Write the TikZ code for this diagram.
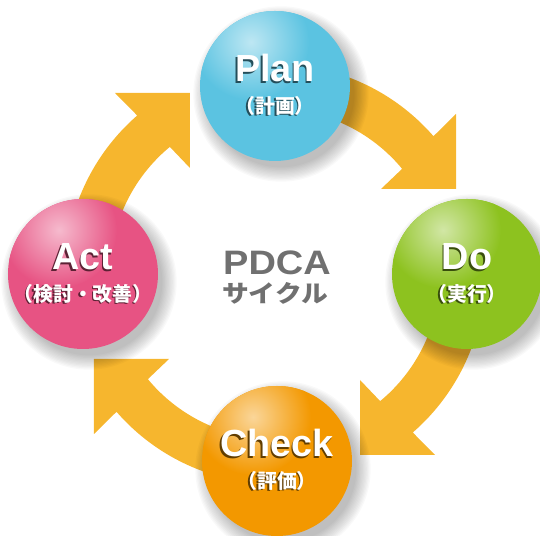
\documentclass[tikz,border=0pt]{standalone}
\usepackage{fontspec}
\usepackage{graphicx}
\setmainfont{Liberation Sans}
\newfontfamily\jpfont{Noto Sans CJK JP}
\definecolor{arrowcol}{HTML}{F6B62E}
\definecolor{plancol}{HTML}{5BC3E1}
\definecolor{docol}{HTML}{8DC21F}
\definecolor{checkcol}{HTML}{F39800}
\definecolor{actcol}{HTML}{E75383}
\definecolor{textgray}{HTML}{707070}

% one coloured ball with its two labels: name, centre, colour, title, subtitle
\newcommand{\pdcaball}[5]{
\begin{scope}[shift={(#2)}]
\foreach \k in {1,...,12}
  \fill[black, opacity=0.022] (6,-8) circle ({74+15-\k*1.3});
\fill[#3] (0,0) circle (75);
\begin{scope}
\clip (0,0) circle (75);
\shade[inner color=white!60!#3, outer color=#3] (-24,44) circle (58);
\end{scope}
\node[title, text=#3!40!black] (#1-sh) at (-1.6,2.4) {#4};
\node[title] (#1) at (0,4) {#4};
\node[sub, text=#3!40!black] (#1-subsh) at (-1.4,-21.4) {#5};
\node[sub] (#1-sub) at (0,-20) {#5};
\end{scope}
}

\begin{document}
\begin{tikzpicture}[x=0.02cm, y=0.02cm,
  title/.style={anchor=base, inner sep=0, text=white,
    font=\bfseries\fontsize{21.5}{24}\selectfont},
  sub/.style={inner sep=0, text=white,
    font=\jpfont\bfseries\fontsize{11.3}{13}\selectfont},
  centre/.style={anchor=base, inner sep=0, text=textgray}]
\useasboundingbox (-275,-262) rectangle (265,274);

% the four bent arrows, one per quarter turn
\foreach \rot in {0,-90,-180,-270}
  \fill[arrowcol, rotate=\rot] (100:210) arc[start angle=100, end angle=41, radius=210]
    -- (181,160) -- (181,85) -- (106,85) -- (39.6:165)
    arc[start angle=39.6, end angle=100, radius=165] -- cycle;

\pdcaball{plan}{0,188}{plancol}{Plan}{（計画）}
\pdcaball{do}{192,0}{docol}{Do}{（実行）}
\pdcaball{check}{2,-187}{checkcol}{Check}{（評価）}
\pdcaball{act}{-192,0}{actcol}{Act}{（検討・改善）}

% middle text
\node[centre, font=\bfseries\fontsize{19.3}{22}\selectfont] (pdca) at (2,-1) {\scalebox{1.12}[1]{PDCA}};
\node[centre, font=\jpfont\bfseries\fontsize{13.6}{16}\selectfont] (cycle) at (0,-29) {\scalebox{1.12}[1]{サイクル}};
\end{tikzpicture}
\end{document}
